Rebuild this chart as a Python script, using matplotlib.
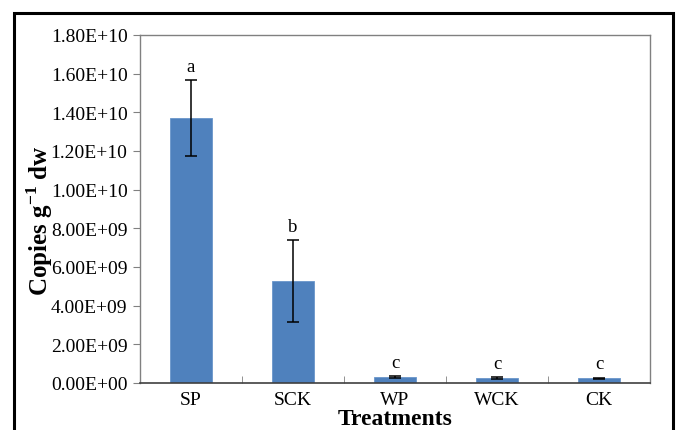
import matplotlib
matplotlib.use("Agg")
import matplotlib.pyplot as plt
from matplotlib.patches import Rectangle
from matplotlib.ticker import FuncFormatter, MultipleLocator

categories = ["SP", "SCK", "WP", "WCK", "CK"]
values = [1.37e10, 5.28e9, 3.1e8, 2.6e8, 2.5e8]
errors = [1.95e9, 2.1e9, 5e7, 4e7, 2e7]
letters = ["a", "b", "c", "c", "c"]

plt.rcParams['font.family'] = ['Liberation Serif', 'DejaVu Serif']
plt.rcParams['mathtext.fontset'] = 'custom'
plt.rcParams['mathtext.rm'] = 'Liberation Serif'
plt.rcParams['mathtext.bf'] = 'Liberation Serif:bold'

W, H = 676, 431
fig = plt.figure(figsize=(W/100, H/100), dpi=100)
ax = fig.add_axes([140/W, 1-384/H, (650-140)/W, (384-36)/H])

x = list(range(len(categories)))
ax.bar(x, values, width=0.41, color="#4F81BD", edgecolor="#6A96CB", linewidth=0.6, zorder=2)
ax.errorbar(x, values, yerr=errors, fmt="none", ecolor="black", elinewidth=1.1,
            capsize=4, capthick=1.1, zorder=3)
for xi, v, e, l in zip(x, values, errors, letters):
    ax.text(xi, v + e + 2.8e8, l, ha="center", va="bottom", fontsize=13.5)

ax.set_xlim(-0.5, len(categories) - 0.5)
ax.set_ylim(0, 1.8e10)
ax.yaxis.set_major_locator(MultipleLocator(2e9))

def fmt(v, pos):
    return f"{v:.2E}"

ax.yaxis.set_major_formatter(FuncFormatter(fmt))
ax.set_xticks(x)
ax.set_xticklabels(categories, fontsize=14)
ax.tick_params(axis="x", length=0, pad=6)
ax.set_xticks([i + 0.5 for i in range(len(categories) - 1)], minor=True)
ax.tick_params(axis="x", which="minor", direction="in", length=5, color="#808080")
ax.tick_params(axis="y", direction="out", length=5, labelsize=14, color="#808080", pad=4)

for s in ["top", "right", "left"]:
    ax.spines[s].set_color("#808080")
    ax.spines[s].set_linewidth(1.0)
ax.spines["bottom"].set_color("#404040")
ax.spines["bottom"].set_linewidth(1.2)

ax.set_ylabel("Copies g$^{\\mathbf{-1}}$ dw", fontsize=18, fontweight="bold")
ax.yaxis.set_label_coords(-0.166, 0.468)
ax.set_xlabel("Treatments", fontsize=17, fontweight="bold", labelpad=0)

fig.patches.append(Rectangle((14/W, -0.05), (673-14)/W, 1.05 - 14/H,
                             transform=fig.transFigure, fill=False,
                             edgecolor="black", linewidth=2.2))

fig.savefig("out.png", dpi=100)
